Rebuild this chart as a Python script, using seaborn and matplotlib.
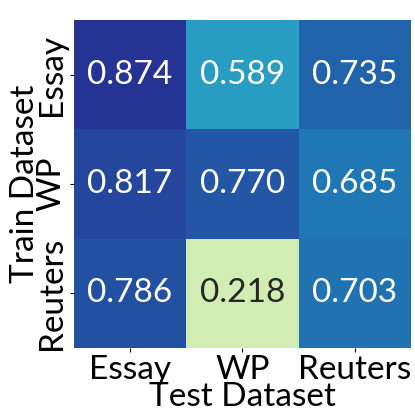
import pandas as pd
import seaborn as sns
import matplotlib.pyplot as plt
import numpy as np

# train (rows) x test (cols) scores
train_sets = ['Essay', 'WP', 'Reuters']
test_sets = ['Essay', 'WP', 'Reuters']
essay_row = [0.874, 0.589, 0.735]
wp_row = [0.817, 0.770, 0.685]
reuters_row = [0.786, 0.218, 0.703]

scores = pd.DataFrame([essay_row, wp_row, reuters_row], index=train_sets, columns=test_sets)

plt.rcParams['font.family'] = ['Lato', 'DejaVu Sans']

fig = plt.figure(figsize=(4.15, 4.15), dpi=100)
ax = fig.add_axes([0.178, 0.161, 0.812, 0.791])
sns.heatmap(scores, annot=True, fmt='.3f', cmap='YlGnBu', vmin=0, vmax=1,
            cbar=False, ax=ax, annot_kws={'fontsize': 24})

ax.set_xlabel('Test Dataset', fontsize=24, labelpad=-2)
ax.set_ylabel('Train Dataset', fontsize=24, labelpad=-2)
ax.tick_params(axis='both', labelsize=24, length=3, pad=2)
ax.set_yticklabels(train_sets, rotation=90, va='center')
ax.set_xticklabels(test_sets, rotation=0)

fig.savefig('out.png', dpi=100)
